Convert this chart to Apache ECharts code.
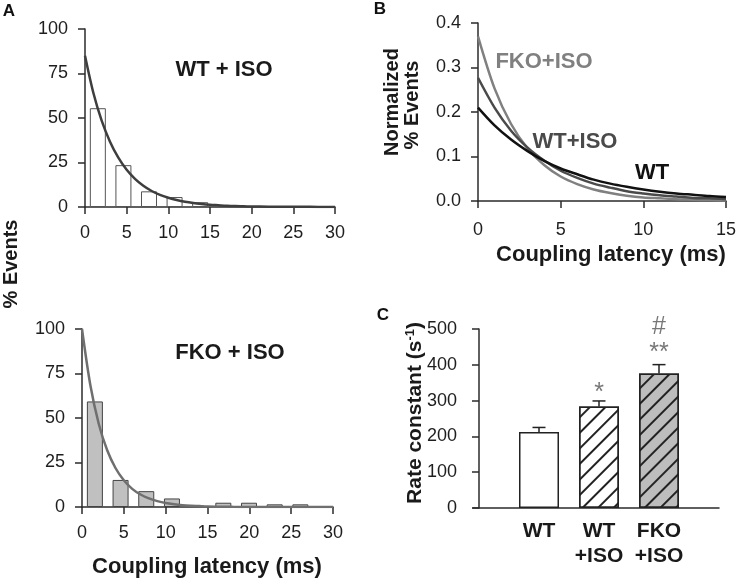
<!DOCTYPE html>
<html>
<head>
<meta charset="utf-8">
<script src="https://cdn.jsdelivr.net/npm/echarts@6/dist/echarts.min.js"></script>
<style>
html,body{margin:0;padding:0;background:#fff;}
#chart{width:739px;height:581px;}
</style>
</head>
<body>
<div id="chart"></div>
<script>
// ---------- DATA ----------
// Panel A (top): WT + ISO histogram (bin centre ms, % events)
const wtIsoBins = [1.54, 4.61, 7.68, 10.75, 13.82];
const wtIsoHist = [55.5, 23.5, 8.8, 5.6, 2.7];
// fitted curve
const wtIsoCurveT = [0, 1, 2, 3, 4, 5, 6, 7, 8, 9, 10, 11, 12, 13, 14, 15, 16, 17, 18, 19, 20, 22, 24, 26, 28, 30];
const wtIsoCurveY = [85, 64.2, 48.5, 36.7, 27.7, 20.9, 15.8, 11.9, 9.0, 6.8, 5.2, 3.9, 2.9, 2.2, 1.7, 1.3, 1.0, 0.7, 0.5, 0.4, 0.3, 0.2, 0.1, 0.1, 0.05, 0.03];

// Panel A (bottom): FKO + ISO histogram
const fkoIsoBins = [1.54, 4.61, 7.68, 10.75, 16.89, 19.96, 23.03, 26.1];
const fkoIsoHist = [59.3, 15.2, 8.9, 4.8, 2.4, 2.4, 1.5, 1.5];
const fkoIsoCurveT = [0, 1, 2, 3, 4, 5, 6, 7, 8, 9, 10, 11, 12, 13, 14, 15, 16, 18, 20, 25, 30];
const fkoIsoCurveY = [100, 68.4, 46.8, 32.0, 21.9, 15.0, 10.2, 7.0, 4.8, 3.3, 2.2, 1.5, 1.0, 0.7, 0.5, 0.3, 0.2, 0.1, 0.05, 0.02, 0.01];

// Panel B: normalized curves
const normT = [0, 1, 2, 3, 4, 5, 6, 7, 8, 9, 10, 11, 12, 13, 14, 15];
const normWT = [0.210, 0.170, 0.138, 0.112, 0.090, 0.073, 0.060, 0.048, 0.039, 0.032, 0.026, 0.021, 0.017, 0.014, 0.011, 0.009];
const normWTIso = [0.277, 0.210, 0.158, 0.120, 0.091, 0.068, 0.052, 0.039, 0.030, 0.022, 0.017, 0.013, 0.010, 0.007, 0.006, 0.004];
const normFKOIso = [0.370, 0.253, 0.173, 0.118, 0.081, 0.055, 0.038, 0.026, 0.018, 0.012, 0.008, 0.006, 0.004, 0.003, 0.002, 0.001];

// Panel C: rate constants
const rateCats = ['WT', 'WT\n+ISO', 'FKO\n+ISO'];
const rateVals = [212, 283.5, 376];
const rateErr = [13, 15.5, 24.5];
const rateMarks = ['', '*', '**'];
const rateMarks2 = ['', '', '#'];

// ---------- CHART ----------
const FONT = 'Liberation Sans, Arial, Helvetica, sans-serif';
const AX = '#2b2b2b';
const chart = echarts.init(document.getElementById('chart'), null, {renderer: 'canvas'});

function pairs(xs, ys) { return xs.map((x, i) => [x, ys[i]]); }

const tickLabel = {fontFamily: FONT, fontSize: 18, color: '#1e1e1e'};
function valAxis(gi, min, max, interval, margin, extra) {
  return Object.assign({
    type: 'value', gridIndex: gi, min: min, max: max, interval: interval,
    splitLine: {show: false},
    axisLine: {show: true, lineStyle: {color: AX, width: 1.5}},
    axisTick: {show: true, length: 7, lineStyle: {color: AX, width: 1.5}},
    axisLabel: Object.assign({margin: margin}, tickLabel)
  }, extra || {});
}

const catPos = rateCats.map((c, i) => i + 1);
const hatch = {
  symbol: 'rect', symbolSize: 1, color: '#222',
  dashArrayX: [1, 0], dashArrayY: [1.3, 8.2], rotation: -Math.PI / 4
};
const curve = {type: 'line', showSymbol: false, smooth: 0.3};

const option = {
  animation: false,
  backgroundColor: '#fff',
  grid: [
    {left: 85, top: 29, width: 250, height: 178},
    {left: 82, top: 329, width: 251, height: 178},
    {left: 478, top: 23, width: 251, height: 178},
    {left: 473, top: 329, width: 246, height: 179}
  ],
  xAxis: [
    valAxis(0, 0, 30, 5, 17),
    valAxis(1, 0, 30, 5, 17),
    valAxis(2, 0, 15, 5, 20),
    {
      type: 'value', gridIndex: 3, min: -0.1, max: 4, interval: 0.1,
      splitLine: {show: false},
      axisLine: {show: true, onZero: false, lineStyle: {color: AX, width: 1.5}},
      axisTick: {show: false},
      axisLabel: {
        margin: 11, fontFamily: FONT, fontSize: 21, fontWeight: 'bold', color: '#1a1a1a', lineHeight: 25,
        formatter: function (v) {
          for (let i = 0; i < catPos.length; i++) {
            if (Math.abs(v - catPos[i]) < 1e-6) return rateCats[i];
          }
          return '';
        }
      }
    }
  ],
  yAxis: [
    valAxis(0, 0, 100, 25, 17),
    valAxis(1, 0, 100, 25, 17),
    valAxis(2, 0, 0.4, 0.1, 17, {axisLabel: Object.assign({margin: 17, formatter: v => v.toFixed(1)}, tickLabel)}),
    valAxis(3, 0, 500, 100, 16)
  ],
  series: [
    {
      type: 'bar', xAxisIndex: 0, yAxisIndex: 0, barWidth: 16,
      data: pairs(wtIsoBins, wtIsoHist),
      itemStyle: {color: '#fff', borderColor: '#555', borderWidth: 1}
    },
    Object.assign({}, curve, {
      xAxisIndex: 0, yAxisIndex: 0, z: 5,
      data: pairs(wtIsoCurveT, wtIsoCurveY),
      lineStyle: {color: '#3e3e3e', width: 2.5}
    }),
    {
      type: 'bar', xAxisIndex: 1, yAxisIndex: 1, barWidth: 16,
      data: pairs(fkoIsoBins, fkoIsoHist),
      itemStyle: {color: '#c0c0c0', borderColor: '#444', borderWidth: 1}
    },
    Object.assign({}, curve, {
      xAxisIndex: 1, yAxisIndex: 1, z: 5,
      data: pairs(fkoIsoCurveT, fkoIsoCurveY),
      lineStyle: {color: '#6f6f6f', width: 2.5}
    }),
    Object.assign({}, curve, {
      xAxisIndex: 2, yAxisIndex: 2,
      data: pairs(normT, normFKOIso), lineStyle: {color: '#808080', width: 2.5}
    }),
    Object.assign({}, curve, {
      xAxisIndex: 2, yAxisIndex: 2,
      data: pairs(normT, normWTIso), lineStyle: {color: '#4a4a4a', width: 2.5}
    }),
    Object.assign({}, curve, {
      xAxisIndex: 2, yAxisIndex: 2,
      data: pairs(normT, normWT), lineStyle: {color: '#111', width: 2.5}
    }),
    {
      type: 'bar', xAxisIndex: 3, yAxisIndex: 3, barWidth: 40,
      data: [
        {value: [catPos[0], rateVals[0]], itemStyle: {color: '#fff'}},
        {value: [catPos[1], rateVals[1]], itemStyle: {color: '#fff', decal: hatch}},
        {value: [catPos[2], rateVals[2]], itemStyle: {color: '#bdbdbd', decal: hatch}}
      ],
      itemStyle: {borderColor: '#222', borderWidth: 1.5}
    },
    {
      type: 'custom', xAxisIndex: 3, yAxisIndex: 3, z: 6,
      data: catPos.map((x, i) => [x, rateVals[i], rateErr[i]]),
      renderItem: function (params, api) {
        const x = api.value(0), y = api.value(1), e = api.value(2);
        const p0 = api.coord([x, y]);
        const p1 = api.coord([x, y + e]);
        const st = {stroke: '#222', lineWidth: 1.5};
        return {
          type: 'group', children: [
            {type: 'line', shape: {x1: p0[0], y1: p0[1], x2: p1[0], y2: p1[1]}, style: st},
            {type: 'line', shape: {x1: p1[0] - 6.5, y1: p1[1], x2: p1[0] + 6.5, y2: p1[1]}, style: st}
          ]
        };
      }
    },
    {
      type: 'scatter', xAxisIndex: 3, yAxisIndex: 3, symbolSize: 1, z: 7, clip: false,
      itemStyle: {color: 'rgba(0,0,0,0)'},
      data: [[catPos[1], 322, rateMarks[1]], [catPos[2], 432, rateMarks[2]], [catPos[2], 505, rateMarks2[2]]],
      label: {
        show: true, position: 'inside', formatter: p => p.data[2],
        fontFamily: FONT, fontSize: 25, color: '#555'
      }
    }
  ],
  graphic: [
    {type: 'text', x: 9, y: 11, style: {text: 'A', font: 'bold 17px ' + FONT, fill: '#111', align: 'center', verticalAlign: 'middle'}},
    {type: 'text', x: 380, y: 9, style: {text: 'B', font: 'bold 17px ' + FONT, fill: '#111', align: 'center', verticalAlign: 'middle'}},
    {type: 'text', x: 383, y: 315, style: {text: 'C', font: 'bold 17px ' + FONT, fill: '#111', align: 'center', verticalAlign: 'middle'}},
    {type: 'text', x: 11, y: 264, rotation: Math.PI / 2, style: {text: '% Events', font: 'bold 20px ' + FONT, fill: '#1a1a1a', align: 'center', verticalAlign: 'middle'}},
    {type: 'text', x: 224, y: 70, style: {text: 'WT + ISO', font: 'bold 22px ' + FONT, fill: '#1a1a1a', align: 'center', verticalAlign: 'middle'}},
    {type: 'text', x: 230, y: 353, style: {text: 'FKO + ISO', font: 'bold 22px ' + FONT, fill: '#1a1a1a', align: 'center', verticalAlign: 'middle'}},
    {type: 'text', x: 207, y: 567, style: {text: 'Coupling latency (ms)', font: 'bold 22px ' + FONT, fill: '#1a1a1a', align: 'center', verticalAlign: 'middle'}},
    {type: 'text', x: 611, y: 255, style: {text: 'Coupling latency (ms)', font: 'bold 22px ' + FONT, fill: '#1a1a1a', align: 'center', verticalAlign: 'middle'}},
    {type: 'text', x: 392, y: 102, rotation: Math.PI / 2, style: {text: 'Normalized', font: 'bold 20px ' + FONT, fill: '#1a1a1a', align: 'center', verticalAlign: 'middle'}},
    {type: 'text', x: 412, y: 105, rotation: Math.PI / 2, style: {text: '% Events', font: 'bold 20px ' + FONT, fill: '#1a1a1a', align: 'center', verticalAlign: 'middle'}},
    {type: 'text', x: 544, y: 62, style: {text: 'FKO+ISO', font: 'bold 22px ' + FONT, fill: '#808080', align: 'center', verticalAlign: 'middle'}},
    {type: 'text', x: 575, y: 142, style: {text: 'WT+ISO', font: 'bold 22px ' + FONT, fill: '#4a4a4a', align: 'center', verticalAlign: 'middle'}},
    {type: 'text', x: 652, y: 173, style: {text: 'WT', font: 'bold 22px ' + FONT, fill: '#111', align: 'center', verticalAlign: 'middle'}},
    {type: 'text', x: 415, y: 413, rotation: Math.PI / 2, style: {
      text: 'Rate constant (s{sup|-1})', font: 'bold 21px ' + FONT, fill: '#1a1a1a', align: 'center', verticalAlign: 'middle',
      rich: {sup: {font: 'bold 13px ' + FONT, fill: '#1a1a1a', verticalAlign: 'top', padding: [0, 0, 9, 0]}}
    }}
  ]
};
chart.setOption(option);
</script>
</body>
</html>
